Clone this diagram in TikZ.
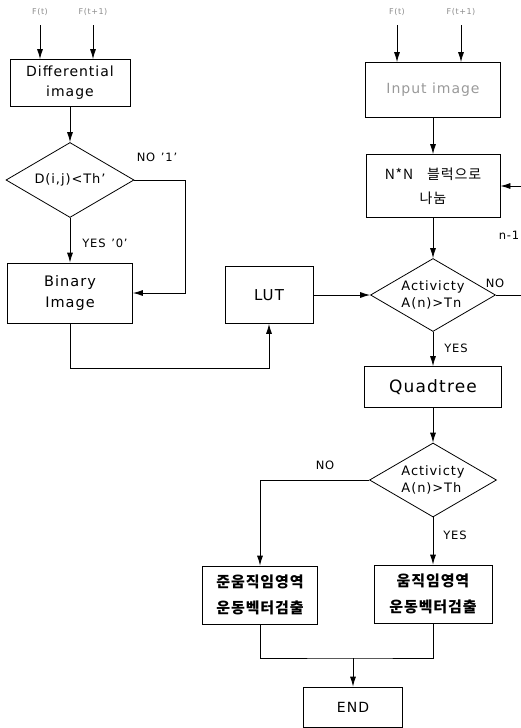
\documentclass[tikz,border=0pt]{standalone}
\usepackage{fontspec}
\setmainfont{DejaVu Sans}[LetterSpace=7]
\newfontfamily\kr{Noto Sans CJK KR}[LetterSpace=6]
\usetikzlibrary{arrows.meta,positioning,shapes.geometric}

\begin{document}
\begin{tikzpicture}[x=1pt,y=-1pt,->,
		>={Latex[length=10pt,width=6pt]},
		line width=0.8pt,
		boxnode/.style={draw,rectangle,align=center,inner sep=2pt,font=\fontsize{14}{20}\selectfont},
		testnode/.style={draw,diamond,aspect=1.7,inner sep=0pt,align=left,font=\fontsize{13}{17}\selectfont},
		krnode/.style={draw,rectangle,align=center,font=\kr\bfseries\fontsize{15}{26}\selectfont},
		inlabel/.style={black!45,font=\fontsize{8}{9}\selectfont},
		flaglabel/.style={font=\fontsize{11.5}{12}\selectfont}]
		\useasboundingbox (0,0) rectangle (521,728);
		
		% differential image side
		\node[inlabel] (ft1) at (40,12) {F(t)};
		\node[inlabel] (ft2) at (93,12) {F(t+1)};
		\node[boxnode,minimum width=120pt,minimum height=47pt] (diff) at (70,83) {Differential\\image};
		\node[testnode,minimum width=128pt,minimum height=75pt] (dtest) at (70,180) {D(i,j)<Th'};
		\node[flaglabel] (dno) at (157,157) {NO\enspace '1'};
		\node[flaglabel] (dyes) at (105,243) {YES\enspace '0'};
		\node[boxnode,font=\fontsize{14.5}{21}\selectfont,minimum width=125pt,minimum height=60pt] (binimg) at (70,293) {Binary\\Image};
		\node[boxnode,font=\fontsize{15}{20}\selectfont,minimum width=88pt,minimum height=57pt] (lut) at (269,295) {LUT};
		\coordinate (nobend) at (185,180);
		\coordinate (binrun) at (0,368);
		
		\draw[shorten <=6pt] (ft1.south) to (ft1.south |- diff.north);
		\draw[shorten <=6pt] (ft2.south) to (ft2.south |- diff.north);
		\draw (diff) to (dtest);
		\draw (dtest) to (binimg);
		\draw (dtest.east) -- (nobend) |- (binimg.east);
		\draw (binimg.south) |- (binrun -| lut.south) -- (lut.south);
		
		% block split side
		\node[inlabel] (ft3) at (397,12) {F(t)};
		\node[inlabel] (ft4) at (461,12) {F(t+1)};
		\node[boxnode,text=black!40,minimum width=135pt,minimum height=55pt] (input) at (433,90) {Input image};
		\node[boxnode,font=\kr\fontsize{14}{24}\selectfont,minimum width=134pt,minimum height=63pt] (split) at (433,186) {N*N\quad 블럭으로\\나눔};
		\node[flaglabel] (nminus) at (509,235) {n-1};
		\node[testnode,minimum width=125pt,minimum height=73pt] (act1) at (433,295) {Activicty\\A(n)>Tn};
		\node[flaglabel] (ano1) at (495,283) {NO};
		\node[flaglabel] (ayes1) at (456,348) {YES};
		\node[boxnode,font=\fontsize{17}{20}\selectfont,minimum width=137pt,minimum height=41pt] (quad) at (433,387) {Quadtree};
		\node[testnode,minimum width=127pt,minimum height=74pt] (act2) at (433,480) {Activicty\\A(n)>Th};
		\node[flaglabel] (ano2) at (325,465) {NO};
		\node[flaglabel] (ayes2) at (455,535) {YES};
		\node[krnode,minimum width=115pt,minimum height=58pt] (semi) at (260,595) {준움직임영역\\운동벡터검출};
		\node[krnode,minimum width=118pt,minimum height=58pt] (motion) at (433,594) {움직임영역\\운동벡터검출};
		\node[boxnode,minimum width=99pt,minimum height=40pt] (endnode) at (353,707) {END};
		\coordinate (loopin) at (521,186);
		\coordinate (loopout) at (521,295);
		\coordinate (join) at (353,658);
		
		\draw[shorten <=6pt] (ft3.south) to (ft3.south |- input.north);
		\draw[shorten <=6pt] (ft4.south) to (ft4.south |- input.north);
		\draw (input) to (split);
		\draw (loopin) to (split.east);
		\draw (split) to (act1);
		\draw (lut) to (act1);
		\draw[-] (act1.east) to (loopout);
		\draw (act1) to (quad);
		\draw (quad) to (act2);
		\draw (act2.west) -| (semi.north);
		\draw (act2) to (motion);
		\draw[-] (semi.south) |- (join) -| (motion.south);
		\draw (join) to (endnode);
	\end{tikzpicture}
\end{document}
